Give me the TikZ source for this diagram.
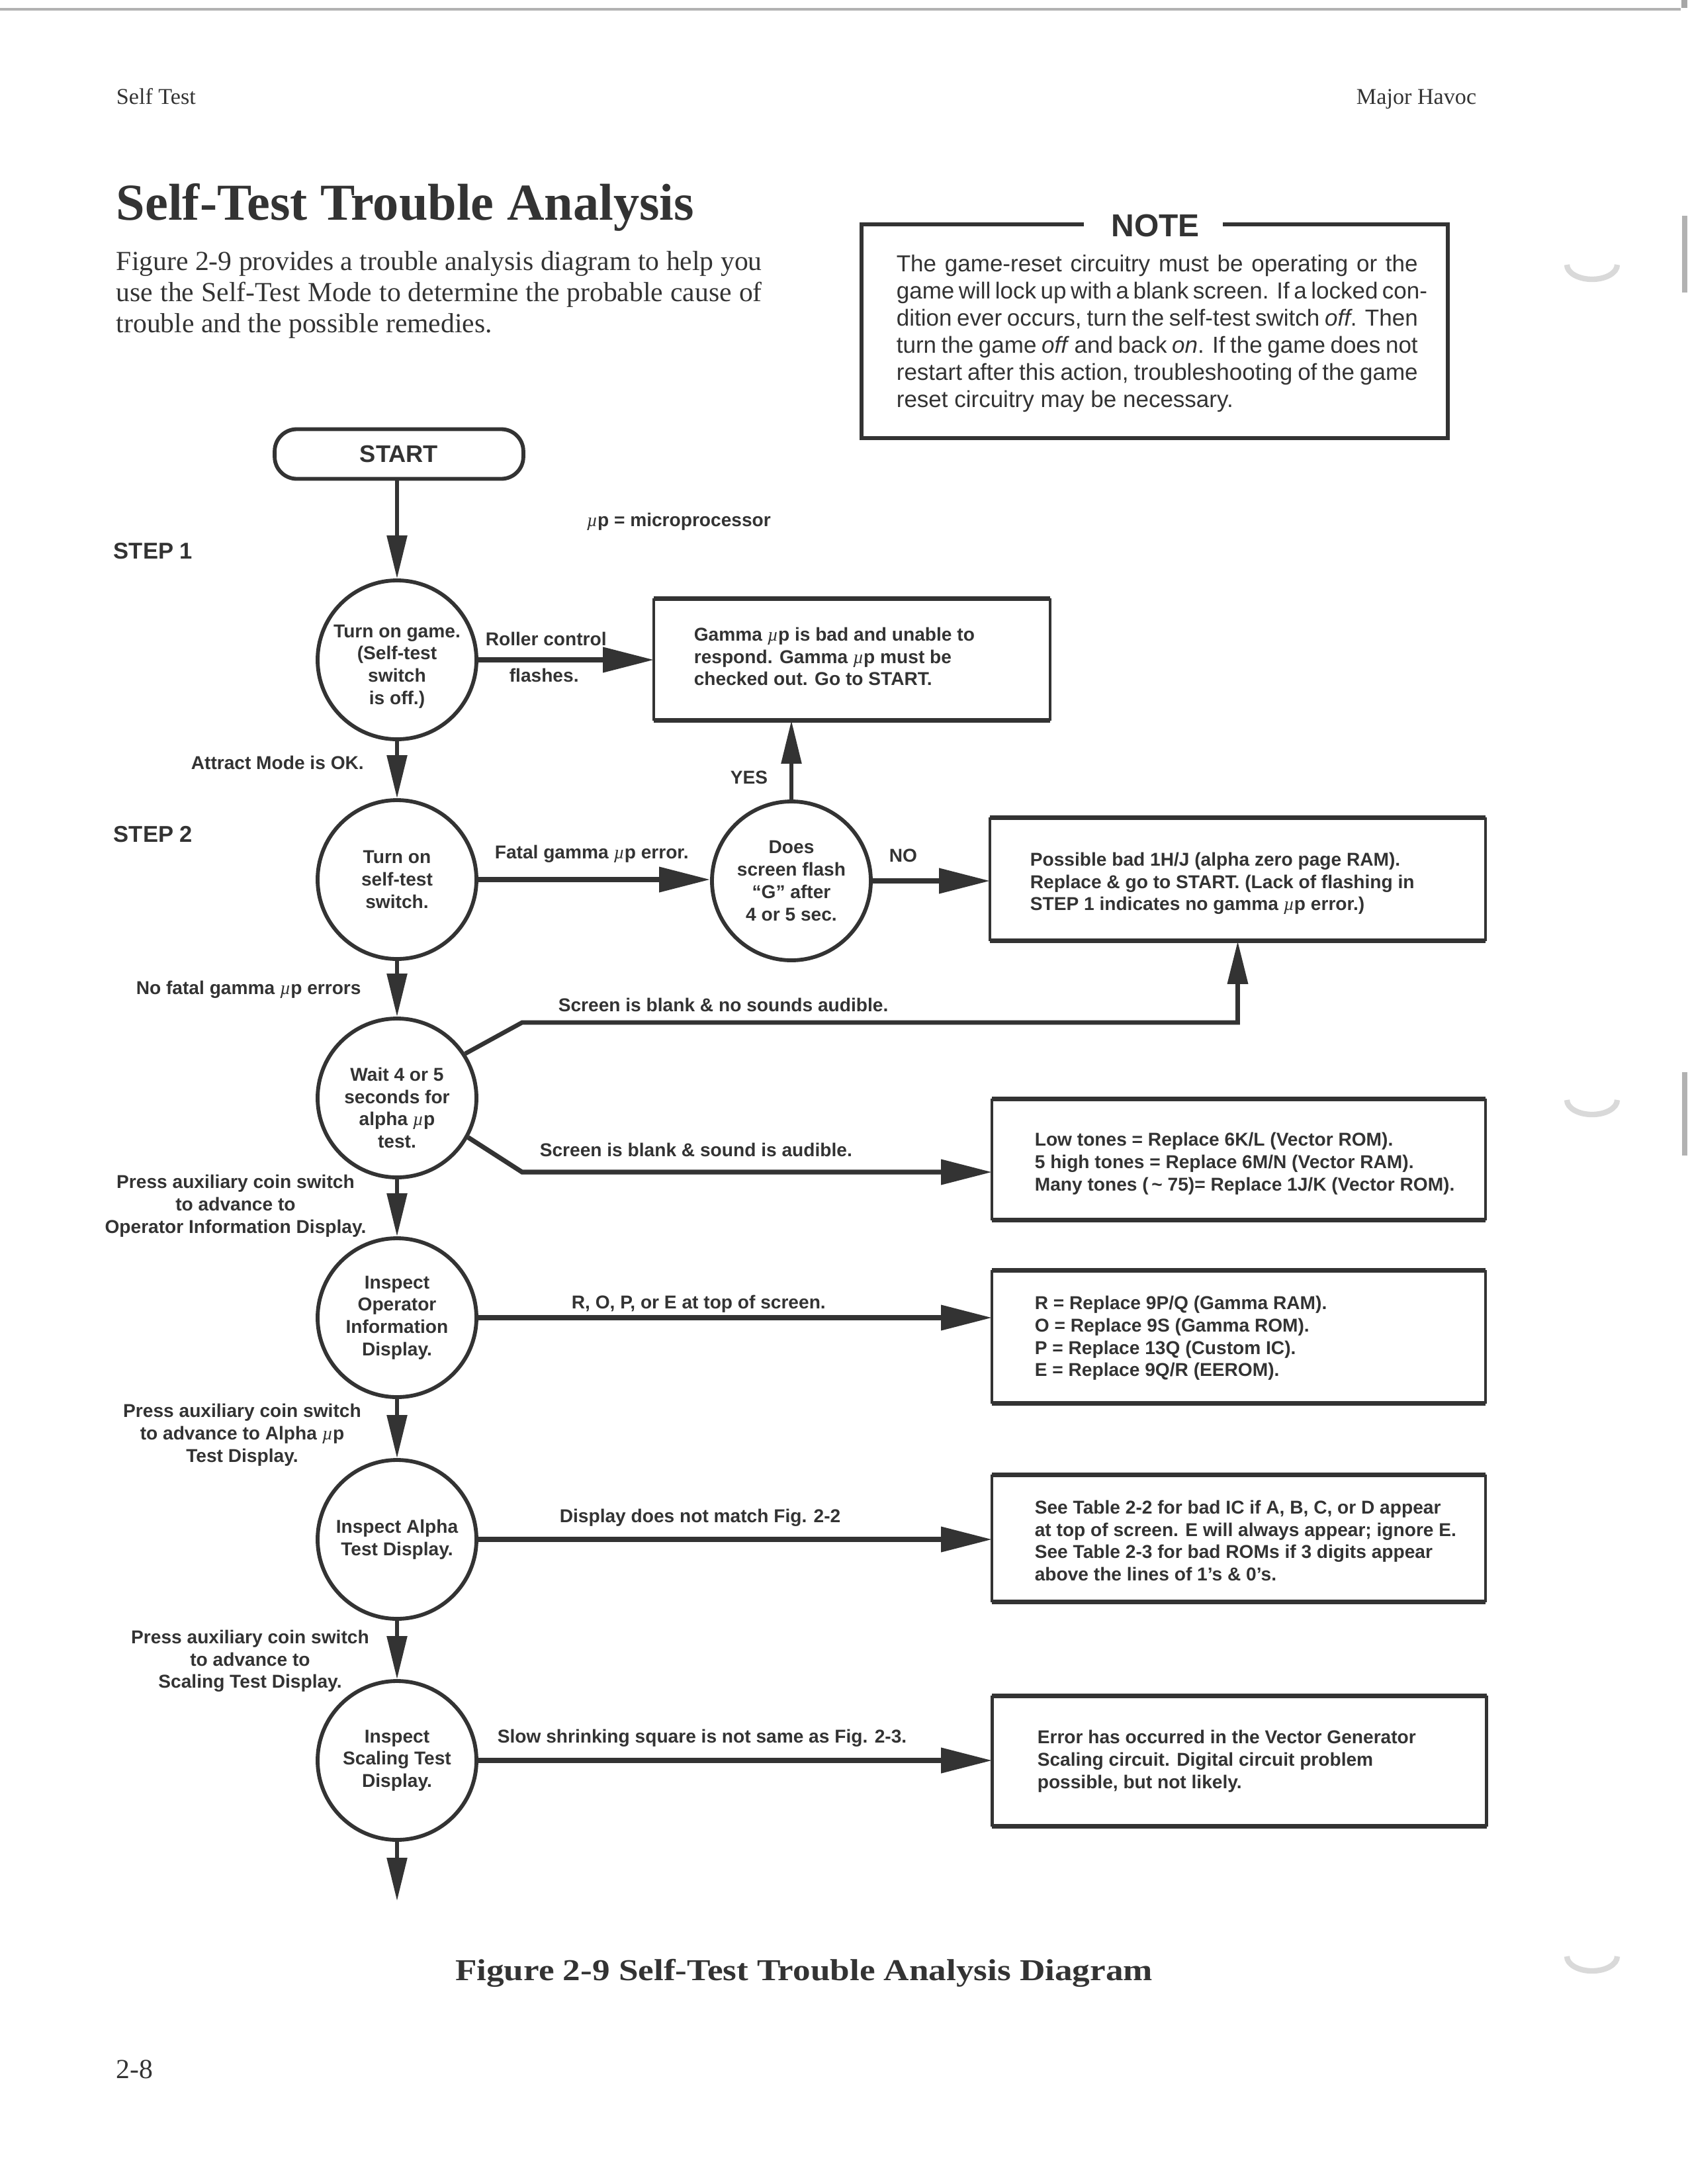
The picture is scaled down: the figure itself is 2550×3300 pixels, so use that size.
\documentclass[tikz,border=0pt]{standalone}
\usepackage{fontspec}
\usepackage{graphicx}
\setmainfont{Liberation Serif}
\newfontfamily\dsans{Liberation Sans}
\newfontfamily\muserif{Liberation Serif}
\usetikzlibrary{arrows.meta}
\definecolor{inkc}{HTML}{333333}
\newcommand\dfont{\dsans\bfseries\fontsize{6.75}{8.1}\selectfont}
\newcommand\mup{{\muserif\mdseries\itshape µ}p}
\newcommand\jl[1]{\makebox[189.1pt][s]{#1}}
\newcommand\boxedges[1]{%
  \draw[inkc, line width=1.7pt, line cap=square] (#1.north west) -- (#1.north east) (#1.south west) -- (#1.south east);
  \draw[inkc, line width=1.1pt] (#1.north west) -- (#1.south west) (#1.north east) -- (#1.south east);}
\tikzset{
  circ/.style={circle, draw=inkc, line width=1.4pt, minimum size=57.6pt, inner sep=0pt, align=center, font=\dfont, text=inkc},
  ctext/.style={align=center, font=\dfont, inner sep=0pt, text=inkc},
  boxn/.style={rectangle, draw=none, inner sep=0pt},
  boxtxt/.style={anchor=west, align=left, font=\dfont, inner sep=0pt, text=inkc},
  lbl/.style={anchor=base west, font=\dfont, inner sep=0pt, text=inkc},
  mlbl/.style={align=center, font=\dfont, inner sep=0pt, text=inkc},
  hline/.style={draw=inkc, line width=1.7pt, -{Triangle[length=18.5pt,width=8.9pt]}},
  vline/.style={draw=inkc, line width=1.3pt, -{Triangle[length=15.6pt,width=7.2pt]}},
  upline/.style={draw=inkc, line width=1.6pt, -{Triangle[length=15.6pt,width=7.2pt]}},
  serif/.style={inner sep=0pt, text=inkc},
}
\begin{document}
\begin{tikzpicture}[x=0.24pt,y=-0.24pt]
\useasboundingbox (0,0) rectangle (2550,3300);
\fill[white] (0,0) rectangle (2550,3300);

% scan artefacts at page edges
\draw[gray!60, line width=1pt] (0,14) -- (2540,14);
\fill[gray!70] (2541,0) rectangle (2550,12);
\fill[gray!60] (2542,326) rectangle (2550,442);
\fill[gray!60] (2542,1620) rectangle (2550,1746);
\draw[gray!30, line width=2pt] (2368,400) arc[start angle=180, end angle=0, x radius=38, y radius=22];
\draw[gray!30, line width=2pt] (2368,1662) arc[start angle=180, end angle=0, x radius=38, y radius=22];
\draw[gray!30, line width=2pt] (2368,2956) arc[start angle=180, end angle=0, x radius=38, y radius=22];

% header, title, paragraph
\node[serif, anchor=base west, font=\fontsize{8.2}{10}\selectfont] (hl) at (175,157) {Self Test};
\node[serif, anchor=base east, font=\fontsize{8.2}{10}\selectfont] (hr) at (2232,157) {Major Havoc};
\node[serif, anchor=base west, font=\bfseries\fontsize{18.8}{22}\selectfont] (title) at (175,332) {Self-Test Trouble Analysis};
\node[serif, anchor=base west, font=\fontsize{10}{12}\selectfont] (pa1) at (175,408) {\makebox[234.2pt][s]{Figure 2-9 provides a trouble analysis diagram to help you}};
\node[serif, anchor=base west, font=\fontsize{10}{12}\selectfont] (pa2) at (175,455) {\makebox[234.2pt][s]{use the Self-Test Mode to determine the probable cause of}};
\node[serif, anchor=base west, font=\fontsize{10}{12}\selectfont] (pa3) at (175,502) {trouble and the possible remedies.};

% NOTE box
\node[serif, anchor=base, font=\dsans\bfseries\fontsize{11.5}{14}\selectfont] (note) at (1746,357) {NOTE};
\draw[inkc, line width=1.4pt, line cap=square] (1638,339) -- (1302,339) -- (1302,662) -- (2188,662) -- (2188,339) -- (1848,339);
\begin{scope}[every node/.style={serif, anchor=base west, font=\dsans\fontsize{8.4}{10}\selectfont}]
\node (n1) at (1354,410) {\jl{The game-reset circuitry must be operating or the}};
\node (n2) at (1354,451) {\jl{game will lock up with a blank screen. If a locked con-}};
\node (n3) at (1354,492) {\jl{dition ever occurs, turn the self-test switch \textit{off}. Then}};
\node (n4) at (1354,533) {\jl{turn the game \textit{off} and back \textit{on}. If the game does not}};
\node (n5) at (1354,574) {\jl{restart after this action, troubleshooting of the game}};
\node (n6) at (1354,615) {reset circuitry may be necessary.};
\end{scope}

% step labels
\node[serif, anchor=base west, font=\dsans\bfseries\fontsize{8.3}{10}\selectfont] (s1) at (171,844) {STEP 1};
\node[serif, anchor=base west, font=\dsans\bfseries\fontsize{8.3}{10}\selectfont] (s2) at (171,1272) {STEP 2};

% start
\node[draw=inkc, line width=1.4pt, rounded corners=8pt, minimum width=90.2pt, minimum height=18pt, inner sep=0pt, text=inkc, font=\dsans\bfseries\fontsize{8.7}{10}\selectfont] (start) at (603,686) {START};

% circles
\node[circ] (c1) at (600,997) {};
\node[ctext] (c1t) at ([yshift=-2.4pt]c1.center) {Turn on game.\\(Self-test\\switch\\is off.)};
\node[circ] (c2) at (600,1329) {Turn on\\self-test\\switch.};
\node[circ] (c3) at (1196,1331) {Does\\screen flash\\“G” after\\4 or 5 sec.};
\node[circ] (c4) at (600,1659) {};
\node[ctext] (c4t) at ([yshift=-3.6pt]c4.center) {Wait 4 or 5\\seconds for\\alpha \mup\\test.};
\node[circ] (c5) at (600,1991) {Inspect\\Operator\\Information\\Display.};
\node[circ] (c6) at (600,2326) {Inspect Alpha\\Test Display.};
\node[circ] (c7) at (600,2660) {Inspect\\Scaling Test\\Display.};

% boxes
\node[boxn, minimum width=143.3pt, minimum height=43.9pt] (b1) at (1287.5,996.5) {};
\node[boxn, minimum width=179.3pt, minimum height=44.4pt] (b2) at (1870.5,1328.5) {};
\node[boxn, minimum width=178.6pt, minimum height=43.7pt] (b3) at (1872,1752) {};
\node[boxn, minimum width=178.6pt, minimum height=48pt] (b4) at (1872,2020) {};
\node[boxn, minimum width=178.6pt, minimum height=45.8pt] (b5) at (1872,2324.5) {};
\node[boxn, minimum width=179pt, minimum height=47pt] (b6) at (1873,2661) {};
\boxedges{b1}\boxedges{b2}\boxedges{b3}\boxedges{b4}\boxedges{b5}\boxedges{b6}

\node[boxtxt] (t1) at (1048,992) {Gamma \mup\ is bad and unable to\\respond. Gamma \mup\ must be\\checked out. Go to START.};
\node[boxtxt] (t2) at (1556,1335) {Possible bad 1H/J (alpha zero page RAM).\\Replace \& go to START. (Lack of flashing in\\STEP 1 indicates no gamma \mup\ error.)};
\node[boxtxt] (t3) at (1563,1758) {Low tones = Replace 6K/L (Vector ROM).\\5 high tones = Replace 6M/N (Vector RAM).\\Many tones (\,\textasciitilde\ 75)= Replace 1J/K (Vector ROM).};
\node[boxtxt] (t4) at (1563,2022) {R = Replace 9P/Q (Gamma RAM).\\O = Replace 9S (Gamma ROM).\\P = Replace 13Q (Custom IC).\\E = Replace 9Q/R (EEROM).};
\node[boxtxt] (t5) at (1563,2328) {See Table 2-2 for bad IC if A, B, C, or D appear\\at top of screen. E will always appear; ignore E.\\See Table 2-3 for bad ROMs if 3 digits appear\\above the lines of 1’s \& 0’s.};
\node[boxtxt] (t6) at (1567,2661) {Error has occurred in the Vector Generator\\Scaling circuit. Digital circuit problem\\possible, but not likely.};

% labels
\node[lbl] (mu) at (886,795) {\mup\ = microprocessor};
\node[lbl] (rc) at (733,975) {Roller control};
\node[lbl] (fl) at (769,1030) {flashes.};
\node[lbl] (yes) at (1103,1184) {YES};
\node[lbl] (att) at (288,1162) {Attract Mode is OK.};
\node[lbl] (fat) at (747,1297) {Fatal gamma \mup\ error.};
\node[lbl] (no) at (1343,1302) {NO};
\node[lbl] (nof) at (205,1502) {No fatal gamma \mup\ errors};
\node[lbl] (sb1) at (843,1528) {Screen is blank \& no sounds audible.};
\node[lbl] (sb2) at (815,1747) {Screen is blank \& sound is audible.};
\node[lbl] (rop) at (863,1977) {R, O, P, or E at top of screen.};
\node[lbl] (ddn) at (845,2300) {Display does not match Fig. 2-2};
\node[lbl] (ssq) at (751,2633) {Slow shrinking square is not same as Fig. 2-3.};
\node[mlbl] (p1) at (356,1822) {Press auxiliary coin switch\\to advance to\\Operator Information Display.};
\node[mlbl] (p2) at (366,2168) {Press auxiliary coin switch\\to advance to Alpha \mup\\Test Display.};
\node[mlbl] (p3) at (378,2510) {Press auxiliary coin switch\\to advance to\\Scaling Test Display.};

% connectors
\draw[vline] (c1.north |- start.south) -- (c1.north);
\draw[vline] (c1.south) -- (c2.north);
\draw[vline] (c2.south) -- (c4.north);
\draw[vline] (c4.south) -- (c5.north);
\draw[vline] (c5.south) -- (c6.north);
\draw[vline] (c6.south) -- (c7.north);
\coordinate (endpt) at (600,2872);
\draw[vline] (c7.south) -- (endpt);
\draw[hline] (c1.east) -- (c1.east -| b1.west);
\draw[hline] (c2.east) -- (c2.east -| c3.west);
\draw[hline] (c3.east) -- (c3.east -| b2.west);
\draw[vline] (c3.north) -- (c3.north |- b1.south);
\coordinate (k1) at (789,1545);
\coordinate (k2) at (789,1771);
\draw[upline, line join=miter] (c4.33) -- (k1) -- (k1 -| b2.south) -- (b2.south);
\draw[hline, line join=miter] (c4.-29) -- (k2) -- (k2 -| b3.west);
\draw[hline] (c5.east) -- (c5.east -| b4.west);
\draw[hline] (c6.east) -- (c6.east -| b5.west);
\draw[hline] (c7.east) -- (c7.east -| b6.west);

% caption and page number
\node[serif, anchor=base, font=\bfseries\fontsize{11}{13}\selectfont] (cap) at (1215,2992) {\scalebox{1.16}[1]{Figure 2-9 Self-Test Trouble Analysis Diagram}};
\node[serif, anchor=base west, font=\fontsize{10}{12}\selectfont] (pg) at (175,3140) {2-8};
\end{tikzpicture}
\end{document}
